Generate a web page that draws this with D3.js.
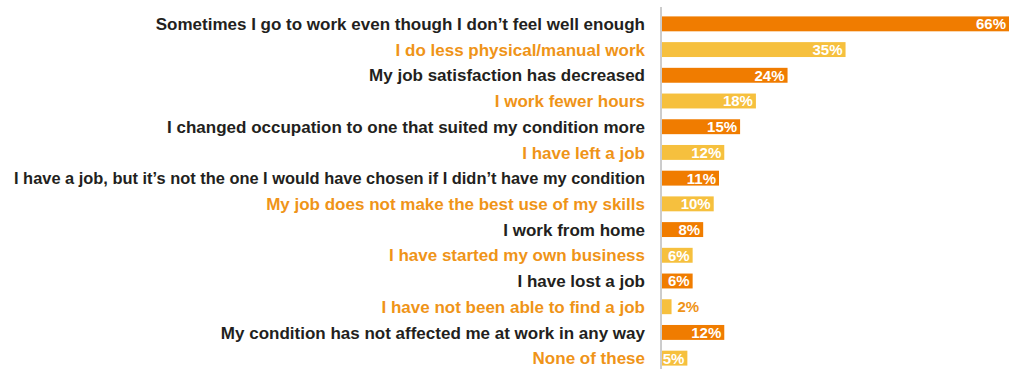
<!DOCTYPE html>
<html>
<head>
<meta charset="utf-8">
<script src="https://cdn.jsdelivr.net/npm/d3@7"></script>
<style>
  body { margin: 0; background: #fff; }
  text { font-family: "Liberation Sans", Arial, sans-serif; font-weight: bold; }
</style>
</head>
<body>
<div id="chart"></div>
<script>
// Impact of condition on work
var categories = [
  "Sometimes I go to work even though I don\u2019t feel well enough",
  "I do less physical/manual work",
  "My job satisfaction has decreased",
  "I work fewer hours",
  "I changed occupation to one that suited my condition more",
  "I have left a job",
  "I have a job, but it\u2019s not the one I would have chosen if I didn\u2019t have my condition",
  "My job does not make the best use of my skills",
  "I work from home",
  "I have started my own business",
  "I have lost a job",
  "I have not been able to find a job",
  "My condition has not affected me at work in any way",
  "None of these"
];
var values = [66, 35, 24, 18, 15, 12, 11, 10, 8, 6, 6, 2, 12, 5];
// 0 = dark row, 1 = light row
var shades = [0, 1, 0, 1, 0, 1, 0, 1, 0, 1, 0, 1, 0, 1];

var width = 1015, height = 369,
    axis_x = 661,
    label_right = 645,
    label_max = 631,
    dark_bar = "#f07c00",
    light_bar = "#f6c03e",
    dark_text = "#231f20",
    light_text = "#ef9418";

var svg = d3.select("#chart").append("svg")
  .attr("width", width)
  .attr("height", height);

var x = d3.scaleLinear()
  .domain([0, 66])
  .range([axis_x, 1009]);

var y = d3.scaleBand()
  .domain(d3.range(categories.length))
  .range([11, 371])
  .paddingInner(0.42)
  .paddingOuter(0.21);

// vertical axis line
svg.append("line")
  .attr("x1", axis_x).attr("x2", axis_x)
  .attr("y1", 7).attr("y2", height)
  .attr("stroke", "#9a9a9a")
  .attr("stroke-width", 1);

var rows = svg.selectAll("g.row")
  .data(values)
  .enter().append("g")
  .attr("class", "row")
  .attr("transform", function(d, i) { return "translate(0," + y(i) + ")"; });

rows.append("rect")
  .attr("x", axis_x + 1)
  .attr("y", 0)
  .attr("width", function(d) { return x(d) - axis_x - 1; })
  .attr("height", y.bandwidth())
  .attr("fill", function(d, i) { return shades[i] ? light_bar : dark_bar; });

// category labels
rows.append("text")
  .attr("x", label_right)
  .attr("y", y.bandwidth() / 2)
  .attr("dy", "0.36em")
  .attr("text-anchor", "end")
  .style("font-size", "17px")
  .attr("fill", function(d, i) { return shades[i] ? light_text : dark_text; })
  .text(function(d, i) { return categories[i]; })
  .each(function() {
    // squeeze the very long label so it fits the left margin
    if (this.getComputedTextLength() > label_max) {
      d3.select(this)
        .attr("textLength", label_max)
        .attr("lengthAdjust", "spacingAndGlyphs");
    }
  });

// value labels
rows.append("text")
  .attr("x", function(d) { return d < 4 ? x(d) + 6 : x(d) - 3; })
  .attr("y", y.bandwidth() / 2)
  .attr("dy", "0.36em")
  .attr("text-anchor", function(d) { return d < 4 ? "start" : "end"; })
  .style("font-size", "15px")
  .attr("fill", function(d, i) { return d < 4 ? light_text : "#fff"; })
  .text(function(d) { return d + "%"; });
</script>
</body>
</html>
